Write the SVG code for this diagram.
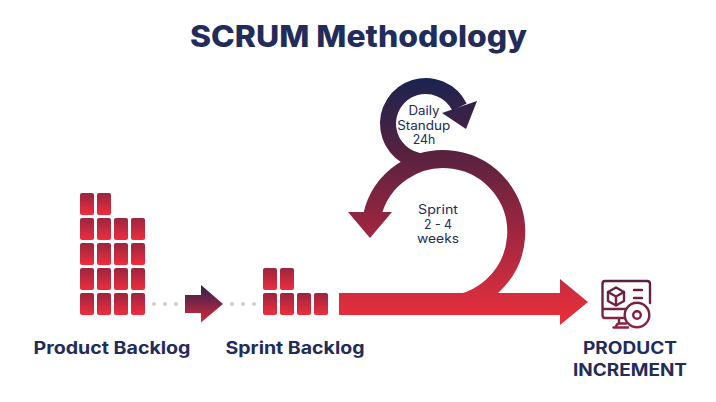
<svg xmlns="http://www.w3.org/2000/svg" width="716" height="402" viewBox="0 0 716 402">
<style>
text{font-family:"Inter","Noto Sans","Liberation Sans",sans-serif;fill:#222c5a;text-anchor:middle}
.h{font-weight:700;font-size:17px}
.s{font-weight:400;font-size:12.5px}
.b{fill:url(#blk)}
.d{fill:#cfcfcf}
.ic{fill:none;stroke:url(#icon);stroke-width:2.4;stroke-linejoin:round;stroke-linecap:round}
</style>
<defs>
<linearGradient id="blk" x1="0" y1="0" x2="0" y2="1"><stop offset="0" stop-color="#9a2641"/><stop offset="1" stop-color="#ef2d3c"/></linearGradient>
<linearGradient id="sm" x1="0" y1="0" x2="0" y2="1"><stop offset="0" stop-color="#2a2050"/><stop offset="1" stop-color="#d92b3b"/></linearGradient>
<linearGradient id="flow" gradientUnits="userSpaceOnUse" x1="0" y1="78" x2="0" y2="325"><stop offset="0" stop-color="#1a2350"/><stop offset="0.3" stop-color="#56223f"/><stop offset="0.58" stop-color="#962540"/><stop offset="0.87" stop-color="#d02e3e"/><stop offset="0.96" stop-color="#e62d3a"/><stop offset="1" stop-color="#ee2d3b"/></linearGradient>
<linearGradient id="icon" gradientUnits="userSpaceOnUse" x1="0" y1="280" x2="0" y2="329"><stop offset="0" stop-color="#5a2044"/><stop offset="1" stop-color="#8e2240"/></linearGradient>
</defs>
<rect width="716" height="402" fill="#fff"/>
<text x="358.500" y="47" font-size="30" font-weight="800" textLength="337" lengthAdjust="spacingAndGlyphs">SCRUM Methodology</text>

<g id="connectors">
<g id="small-arrow-dots">
<circle class="d" cx="154" cy="304" r="2"/><circle class="d" cx="165" cy="304" r="2"/><circle class="d" cx="176" cy="304" r="2"/>
<circle class="d" cx="232" cy="304" r="2"/><circle class="d" cx="243" cy="304" r="2"/><circle class="d" cx="254" cy="304" r="2"/>
<path d="M185 295H201V285L223 304L201 322.500V313H185Z" fill="url(#sm)"/>
</g>
<g id="flow-arrow" fill="url(#flow)">
<path d="M459.500 107A37.700 37.700 0 1 0 425 161.400" fill="none" stroke="url(#flow)" stroke-width="16"/>
<path d="M477 101L466 129L442 113Z"/>
<path d="M443 305A73 73 0 1 0 372 216" fill="none" stroke="url(#flow)" stroke-width="18"/>
<path d="M348 212H392L370 238Z"/>
<path d="M339 293H560V279L588 302L560 325V315H339Z"/>
</g>
</g>

<g id="product-backlog">
<rect class="b" x="80" y="193" width="14" height="22" rx="2"/><rect class="b" x="97" y="193" width="14" height="22" rx="2"/>
<rect class="b" x="80" y="218" width="14" height="22" rx="2"/><rect class="b" x="97" y="218" width="14" height="22" rx="2"/><rect class="b" x="114" y="218" width="14" height="22" rx="2"/><rect class="b" x="131" y="218" width="14" height="22" rx="2"/>
<rect class="b" x="80" y="243" width="14" height="22" rx="2"/><rect class="b" x="97" y="243" width="14" height="22" rx="2"/><rect class="b" x="114" y="243" width="14" height="22" rx="2"/><rect class="b" x="131" y="243" width="14" height="22" rx="2"/>
<rect class="b" x="80" y="268" width="14" height="22" rx="2"/><rect class="b" x="97" y="268" width="14" height="22" rx="2"/><rect class="b" x="114" y="268" width="14" height="22" rx="2"/><rect class="b" x="131" y="268" width="14" height="22" rx="2"/>
<rect class="b" x="80" y="293" width="14" height="22" rx="2"/><rect class="b" x="97" y="293" width="14" height="22" rx="2"/><rect class="b" x="114" y="293" width="14" height="22" rx="2"/><rect class="b" x="131" y="293" width="14" height="22" rx="2"/>
<text class="h" x="112" y="354" textLength="157" lengthAdjust="spacingAndGlyphs">Product Backlog</text>
</g>

<g id="sprint-backlog">
<rect class="b" x="263" y="268" width="14" height="22" rx="2"/><rect class="b" x="280" y="268" width="14" height="22" rx="2"/>
<rect class="b" x="263" y="293" width="14" height="22" rx="2"/><rect class="b" x="280" y="293" width="14" height="22" rx="2"/><rect class="b" x="297" y="293" width="14" height="22" rx="2"/><rect class="b" x="314" y="293" width="14" height="22" rx="2"/>
<text class="h" x="295" y="354" textLength="139" lengthAdjust="spacingAndGlyphs">Sprint Backlog</text>
</g>

<g id="daily-standup">
<text class="s" x="424" y="115" textLength="31" lengthAdjust="spacingAndGlyphs">Daily</text>
<text class="s" x="423.700" y="129.500" textLength="53" lengthAdjust="spacingAndGlyphs">Standup</text>
<text class="s" x="424" y="143.500" textLength="22.500" lengthAdjust="spacingAndGlyphs">24h</text>
</g>

<g id="sprint">
<text class="s" x="438" y="214" textLength="40" lengthAdjust="spacingAndGlyphs">Sprint</text>
<text class="s" x="438" y="228.500" textLength="28" lengthAdjust="spacingAndGlyphs">2 - 4</text>
<text class="s" x="438" y="242.500" textLength="42" lengthAdjust="spacingAndGlyphs">weeks</text>
</g>

<g id="product-increment">
<g class="ic">
<path d="M625 318H605Q602.500 318 602.500 315V284Q602.500 281 605 281H647Q650 281 650 284V303"/>
<path d="M603 309H625"/>
<path d="M616 287.500L624 292V301L616 305.500L608 301V292Z"/>
<path d="M608 292L616 296.500L624 292M616 296.500V305"/>
<path d="M634 290H642M634 298H642"/>
<circle cx="637" cy="315" r="12.300"/>
<circle cx="637" cy="315" r="3.800"/>
<path d="M619 319V323M616 327.500Q616 323.500 620 323.500H626M613.500 327.500H628"/>
</g>
<text class="h" x="630" y="354" textLength="94" lengthAdjust="spacingAndGlyphs">PRODUCT</text>
<text class="h" x="630" y="376" textLength="114" lengthAdjust="spacingAndGlyphs">INCREMENT</text>
</g>
</svg>
